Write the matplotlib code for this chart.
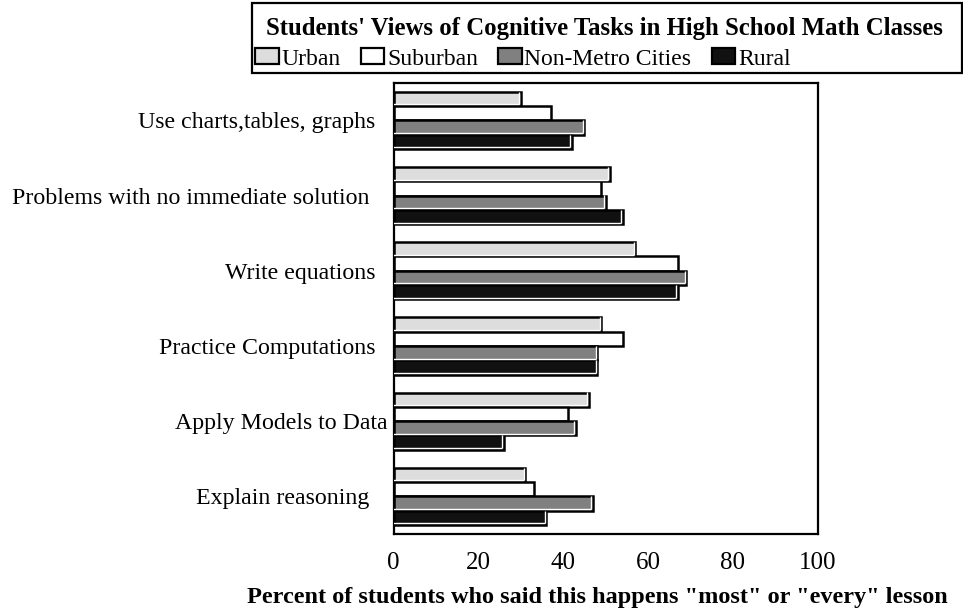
import matplotlib
matplotlib.use("Agg")
import matplotlib.pyplot as plt
import matplotlib.transforms as mtransforms
from matplotlib.patches import Rectangle, Patch
import numpy as np

plt.rcParams['font.family'] = ['Liberation Serif', 'DejaVu Serif']

categories = ["Use charts,tables, graphs  ",
              "Problems with no immediate solution   ",
              "Write equations  ",
              "Practice Computations  ",
              "Apply Models to Data",
              "Explain reasoning   "]
series_names = ["Urban", "Suburban", "Non-Metro Cities", "Rural"]
urban = [30, 51, 57, 49, 46, 31]
suburban = [37, 49, 67, 54, 41, 33]
nonmetro = [45, 50, 69, 48, 43, 47]
rural = [42, 54, 67, 48, 26, 36]
colors = ["#DDDDDD", "#FFFFFF", "#808080", "#111111"]
xticks = [0, 20, 40, 60, 80, 100]
title = "Students' Views of Cognitive Tasks in High School Math Classes"
xlabel = 'Percent of students who said this happens "most" or "every" lesson'

fig = plt.figure(figsize=(9.63, 6.14), dpi=100)
ax = fig.add_axes([0.4088, 0.1303, 0.4403, 0.7350])

values = [urban, suburban, nonmetro, rural]
y = np.arange(len(categories))
h = 0.19
hl = mtransforms.offset_copy(ax.transData, fig=fig, x=-1.6, y=1.6, units='dots')
for i, (vals, col, name) in enumerate(zip(values, colors, series_names)):
    bars = ax.barh(y + (i - 1.5) * h, vals, height=h, color=col,
                   edgecolor='black', linewidth=1.8, label=name, zorder=2)
    if col != "#FFFFFF":
        for p in bars:
            x0, y0 = p.get_x(), p.get_y()
            w, hh = p.get_width(), p.get_height()
            ax.plot([x0, x0 + w], [y0 + hh, y0 + hh], color='white', lw=1.0,
                    transform=hl, zorder=3, solid_capstyle='butt')
            ax.plot([x0 + w, x0 + w], [y0 + 0.02, y0 + hh], color='white', lw=1.0,
                    transform=hl, zorder=3, solid_capstyle='butt')

ax.set_xlim(0, 100)
ax.set_ylim(len(categories) - 0.5, -0.5)
ax.set_xticks(xticks)
ax.set_xticklabels([str(t) for t in xticks], fontsize=18)
ax.set_yticks(y)
ax.set_yticklabels(categories, fontsize=17.2)
ax.tick_params(axis='both', length=0)
ax.tick_params(axis='x', pad=13)
ax.tick_params(axis='y', pad=4.5)
for s in ax.spines.values():
    s.set_linewidth(1.6)
    s.set_color('black')

fig.text(597 / 963, 1 - 597 / 614, xlabel, ha='center', va='center',
         fontsize=17.5, fontweight='bold')

# title/legend box
fig.patches.append(Rectangle((252 / 963, 1 - 73 / 614), (962 - 252) / 963, 70 / 614,
                             transform=fig.transFigure, fill=False,
                             edgecolor='black', linewidth=1.6))
fig.text(604 / 963, 1 - 35 / 614, title, ha='center', va='baseline',
         fontsize=17.8, fontweight='bold')
handles = [Patch(facecolor=c, edgecolor='black', linewidth=1.6) for c in colors]
fig.legend(handles, series_names, loc='center left',
           bbox_to_anchor=(255 / 963, 1 - 59 / 614), ncol=4, frameon=False,
           fontsize=17, handlelength=1.0, handleheight=0.65, handletextpad=0.12,
           columnspacing=0.85, borderpad=0, borderaxespad=0)

fig.savefig("out.png", dpi=100)
